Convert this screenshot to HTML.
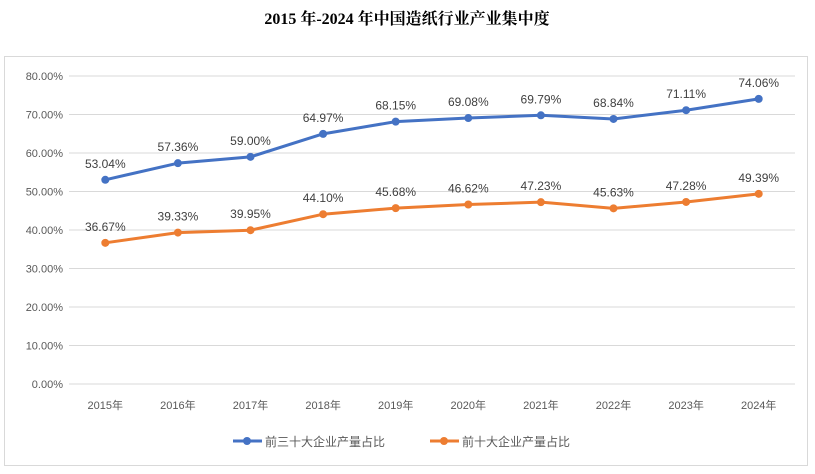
<!DOCTYPE html>
<html><head><meta charset="utf-8"><style>
body{margin:0;background:#fff;}
svg{display:block;font-family:"Liberation Sans","Noto Sans CJK SC",sans-serif;}
</style></head><body>
<svg id="chart" width="815" height="474">
<rect x="4.5" y="56.5" width="803" height="409" fill="#fff" stroke="#d9d9d9"/>
<text x="407" y="24" text-anchor="middle" font-family="Liberation Serif,'Noto Serif CJK SC',serif" font-weight="bold" font-size="16" fill="#000">2015 年-2024 年中国造纸行业产业集中度</text>
<g id="grid"></g><g id="series"></g>
<g>
<g>
<line x1="233" y1="441" x2="262" y2="441" stroke="#4472c4" stroke-width="3"/><circle cx="247" cy="441" r="4" fill="#4472c4"/>
<text x="265" y="446" font-size="12" fill="#595959">前三十大企业产量占比</text></g>
<g>
<line x1="430" y1="441" x2="459" y2="441" stroke="#ed7d31" stroke-width="3"/><circle cx="444" cy="441" r="4" fill="#ed7d31"/>
<text x="462" y="446" font-size="12" fill="#595959">前十大企业产量占比</text></g>
</g>
</svg>
<script>
const categories=["2015年","2016年","2017年","2018年","2019年","2020年","2021年","2022年","2023年","2024年"];
const top30=[53.04,57.36,59.00,64.97,68.15,69.08,69.79,68.84,71.11,74.06];
const top10=[36.67,39.33,39.95,44.10,45.68,46.62,47.23,45.63,47.28,49.39];
const yTicks=[0,10,20,30,40,50,60,70,80];
const NS="http://www.w3.org/2000/svg";
const L=69,R=795,T=76,B=384,yMax=80;
const x=i=>L+(R-L)/categories.length*(i+0.5);
const y=v=>B-(B-T)*v/yMax;
function mk(t,a,p){const e=document.createElementNS(NS,t);for(const k in a)e.setAttribute(k,a[k]);p.appendChild(e);return e;}
const g=document.getElementById('grid'),s=document.getElementById('series');
yTicks.forEach(v=>{
 const l=mk('line',{x1:L,x2:R,y1:y(v),y2:y(v),stroke:'#d9d9d9','stroke-width':1},g);
 
 
 const t=mk('text',{x:63,y:y(v)+4,'text-anchor':'end','font-size':11,fill:'#595959'},g);
 t.textContent=v.toFixed(2)+'%';
 
 
});
categories.forEach((c,i)=>{
 const t=mk('text',{x:x(i),y:409,'text-anchor':'middle','font-size':11,fill:'#595959'},g);
 t.textContent=c;
 
 
});
function draw(data,color,name){
 const p=mk('polyline',{points:data.map((v,i)=>x(i)+','+y(v)).join(' '),fill:'none',stroke:color,'stroke-width':3,'stroke-linejoin':'round'},s);
 
 
 data.forEach((v,i)=>{
  const c=mk('circle',{cx:x(i),cy:y(v),r:4,fill:color},s);
  
  
  const t=mk('text',{x:x(i),y:y(v)-12,'text-anchor':'middle','font-size':12,fill:'#404040'},s);
  t.textContent=v.toFixed(2)+'%';
  
  
 });
}
draw(top30,'#4472c4','top30');
draw(top10,'#ed7d31','top10');
</script>
</body></html>
